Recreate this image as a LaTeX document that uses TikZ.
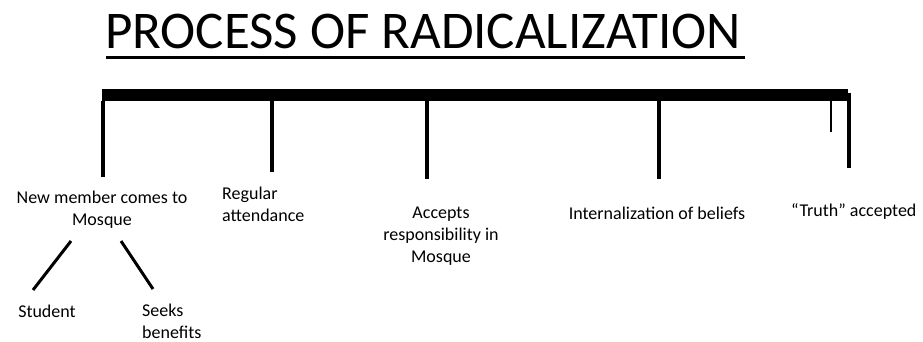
\documentclass[tikz,border=0pt]{standalone}
\usepackage{fontspec}
\setmainfont{Carlito}
\begin{document}
\begin{tikzpicture}[x=1pt,y=-1pt,
  lbl/.style={inner sep=0pt,font=\fontsize{18}{22}\selectfont},
  stem/.style={line width=4pt},
  bar/.style={line width=12pt},
  branch/.style={line width=3pt}]
\useasboundingbox (0,0) rectangle (923,341);
% title
\node[inner sep=0pt,anchor=base west,font=\fontsize{53}{60}\selectfont] (title) at (105,48) {PROCESS OF RADICALIZATION};
\draw[line width=3pt] (106,57) -- (745,57);
% bar
\coordinate (bl) at (102,95);
\coordinate (br) at (848,95);
\draw[bar] (bl) -- (br);
% stems
\coordinate (s1) at (103,101); \coordinate (e1) at (103,177);
\coordinate (s2) at (272,101); \coordinate (e2) at (272,172);
\coordinate (s3) at (427,101); \coordinate (e3) at (427,179);
\coordinate (s4) at (659,101); \coordinate (e4) at (659,179);
\coordinate (s5) at (831,101); \coordinate (e5) at (831,132);
\coordinate (s6) at (849,93);  \coordinate (e6) at (849,168);
\draw[stem] (s1) -- (e1);
\draw[stem] (s2) -- (e2);
\draw[stem] (s3) -- (e3);
\draw[stem] (s4) -- (e4);
\draw[line width=1.5pt] (s5) -- (e5);
\draw[stem] (s6) -- (e6);
% labels
\node[lbl,align=center] (new) at (102,210) {New member comes to\\Mosque};
\node[lbl,align=left,anchor=west] (reg) at (222,204) {Regular\\attendance};
\node[lbl,align=center] (acc) at (441,236) {Accepts\\responsibility in\\Mosque};
\node[lbl] (int) at (657,213) {Internalization of beliefs};
\node[lbl,anchor=west] (tru) at (791,211) {“Truth” accepted};
\node[lbl] (stu) at (47,311) {Student};
\node[lbl,align=left,anchor=west] (see) at (142,321) {Seeks\\benefits};
% branches
\coordinate (b1s) at (71,241); \coordinate (b1e) at (33,290);
\coordinate (b2s) at (121,241); \coordinate (b2e) at (153,289);
\draw[branch] (b1s) -- (b1e);
\draw[branch] (b2s) -- (b2e);
\end{tikzpicture}
\end{document}
